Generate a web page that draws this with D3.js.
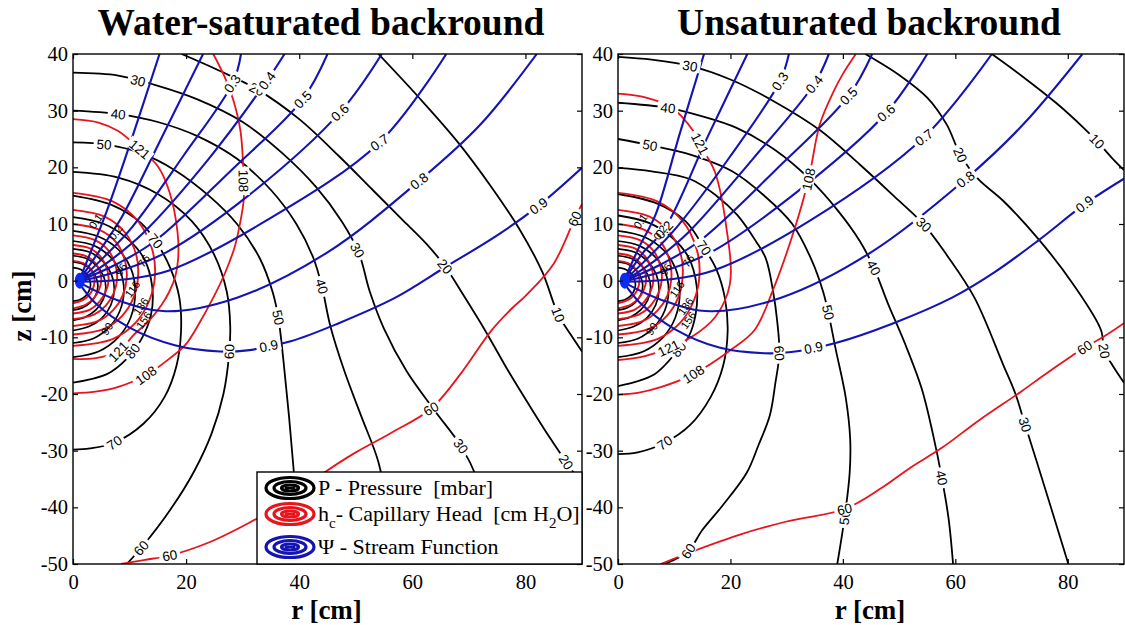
<!DOCTYPE html>
<html>
<head>
<meta charset="utf-8">
<script src="https://cdn.jsdelivr.net/npm/d3@7"></script>
<style>
  body { margin: 0; background: #fff; }
  svg { display: block; }
</style>
</head>
<body>
<div id="chart"></div>
<script>
// ---- values, all in (r [cm], z [cm]) ----
const rTicks = [0, 20, 40, 60, 80];
const zTicks = [-50, -40, -30, -20, -10, 0, 10, 20, 30, 40];
const panelTitles = ["Water-saturated backround", "Unsaturated backround"];

// P - pressure [mbar], water-saturated background
const satPressure = [
  {v: "10", pts: [[54,40],[61,32.5],[68,24.5],[74,16.5],[79,9],[83,1.5],[85.8,-6],[88,-9.5],[90,-12.5]], lab: [[85.8,-6]]},
  {v: "20", pts: [[19.2,40],[26,37],[32.5,33.8],[40,28.5],[47,22],[53,16],[58,11],[62.5,6.5],[65.8,2.5],[69,-2.5],[73,-9],[77,-16],[81,-22.5],[84.5,-28],[87.2,-32],[90,-36]], lab: [[32.5,33.8],[65.8,2.5],[87.2,-32]]},
  {v: "30", pts: [[0,36.7],[8,36.2],[14.3,34.6],[22,32],[30,28],[37,22.5],[43,16.5],[47.5,10.5],[50.5,5],[52.5,-2],[55,-8.5],[59,-16],[64,-23],[68.6,-29.2],[71.5,-35],[73.5,-42],[74.5,-50]], lab: [[11.5,35.3],[50.5,5.5],[68.6,-29.2]]},
  {v: "40", pts: [[0,30],[8,29.4],[15,28],[22,25.5],[29,21.5],[35,16],[39.5,10],[42.5,4],[44,-1],[45.5,-8],[48,-16],[51,-24],[54,-32],[55.5,-40],[56.5,-50]], lab: [[8,29.4],[44,-1]]},
  {v: "50", pts: [[0,24.4],[6,24],[12,22.5],[18,19.5],[24,15],[29,10],[33,4],[35.3,-2],[36.3,-6.5],[37.2,-14],[38.2,-24],[39.3,-37],[40.2,-50]], lab: [[5.5,24],[36.3,-6.5]]},
  {v: "60", pts: [[0,19.2],[8,18.2],[15,15.3],[21,10.5],[25,4.5],[27.2,-2],[27.8,-8],[27.6,-13],[26.6,-20],[24.5,-27],[21.5,-33.5],[17.5,-40],[12.2,-47],[9.5,-50]], lab: [[27.6,-12.5],[12.2,-47.3]]},
  {v: "70", pts: [[0,15],[7,13.3],[12,10.2],[14.6,7],[17.3,2],[18.8,-3],[19.1,-9],[18.3,-15],[16.2,-20.5],[12.5,-25.2],[7.3,-28.6],[3,-29.6],[0,-29.8]], lab: [[14.6,7],[7.3,-28.6]]},
  {v: "80", pts: [[0,11.2],[5.5,10],[9.5,7.5],[12.5,4],[14,-1],[13.8,-6],[12,-10.5],[9.5,-13.8],[6,-16.5],[0,-18]], lab: [[10,-12]]}
];
const satPressureInner = [
  [[0,8.8],[4.5,7.8],[8,5.5],[10.3,2],[11,-2],[10.2,-6.5],[8,-10],[4.5,-12.5],[0,-13.5]],
  [[0,7],[3.7,6.2],[6.5,4.3],[8.4,1.5],[9,-1.8],[8.3,-5.3],[6.4,-8.2],[3.6,-10.2],[0,-11]],
  [[0,5.6],[3,5],[5.3,3.4],[6.8,1.1],[7.3,-1.5],[6.7,-4.3],[5.1,-6.6],[2.8,-8.1],[0,-8.8]],
  [[0,4.4],[2.4,3.9],[4.2,2.6],[5.4,0.8],[5.8,-1.2],[5.3,-3.4],[4,-5.2],[2.2,-6.4],[0,-7]],
  [[0,3.3],[1.8,2.9],[3.2,1.9],[4.1,0.5],[4.4,-1],[4,-2.6],[3,-3.9],[1.6,-4.8],[0,-5.2]],
  [[0,2.3],[1.3,2],[2.3,1.3],[2.9,0.3],[3.1,-0.8],[2.8,-1.9],[2.1,-2.8],[1.1,-3.4],[0,-3.6]]
];

// h_c - capillary head [cm H2O], water-saturated background
const satHead = [
  {v: "60", pts: [[8.5,-50],[12.5,-49.3],[17.1,-48.5],[24,-46.2],[31,-42.8],[38,-38.8],[44.4,-33.9],[50,-30.3],[56,-27],[63.3,-22.6],[68.5,-16.5],[73.9,-8.9],[77.5,-5],[80.2,-2.5],[85,3],[88.9,11.4],[90,13.5]], lab: [[17.1,-48.5],[63.3,-22.6],[88.6,11]]},
  {v: "108", pts: [[24.8,40],[26.8,36],[28.3,32],[29.6,26.5],[30.1,20],[30.2,14.5],[29.7,11],[28.6,6],[26.9,1.4],[24.8,-3],[22.5,-7.2],[19.9,-11.3],[17,-13.8],[12.9,-16.7],[8,-18.75],[4,-19.6],[0,-19.9]], lab: [[30.1,17.6],[12.9,-16.7]]},
  {v: "121", pts: [[0,28.5],[4.5,27.9],[8,26.4],[11.8,23.2],[15,20.2],[17.1,15.5],[18.5,8.4],[18.6,4],[18.1,0.8],[17,-2],[15.7,-4.2],[13.5,-7],[10.8,-9.5],[8,-12.5],[3.8,-13.7],[0,-13.8]], lab: [[11.8,23.2],[8,-12.5]]}
];
const satHeadInner = [
  [[0,15.5],[7,14],[11.5,10.5],[14,5.5],[14.5,1],[13.5,-3.5],[11,-7.5],[7,-10.3],[0,-11.5]],
  [[0,12.5],[5.6,11.3],[9.2,8.5],[11.2,4.5],[11.5,0.7],[10.7,-3],[8.7,-6.2],[5.5,-8.5],[0,-9.5]],
  [[0,10],[4.6,9],[7.6,6.8],[9.2,3.5],[9.5,0.5],[8.8,-2.6],[7.1,-5.2],[4.5,-7.1],[0,-8]],
  [[0,8],[3.8,7.2],[6.2,5.4],[7.5,2.8],[7.8,0.3],[7.2,-2.2],[5.8,-4.4],[3.7,-6],[0,-6.8]],
  [[0,6.3],[3,5.7],[4.9,4.2],[6,2.1],[6.3,0.1],[5.8,-1.9],[4.7,-3.7],[3,-5.1],[0,-5.8]],
  [[0,4.8],[2.4,4.3],[3.9,3.2],[4.8,1.5],[5,0],[4.6,-1.6],[3.7,-3.1],[2.3,-4.2],[0,-4.9]],
  [[0,3.5],[1.8,3.1],[3,2.2],[3.7,1],[3.8,-0.2],[3.5,-1.5],[2.8,-2.6],[1.8,-3.4],[0,-4]]
];

// Psi - stream function, water-saturated background
const satStream = [
  {v: "0.1", pts: [[1.2,0.3],[3.5,6],[6.2,12.9],[10.7,26],[15.3,40]], lab: []},
  {v: "0.2", pts: [[1.2,0.2],[4.5,5],[8.5,11],[15.8,25.5],[23,40]], lab: []},
  {v: "0.3", pts: [[1.2,0.1],[5.5,4.2],[10.5,9.5],[19.5,22],[28.3,35],[29.7,40]], lab: [[28.3,34.7]]},
  {v: "0.4", pts: [[1.2,0],[6.5,3.5],[12.5,8.5],[24,21.5],[34.3,35.3],[37.4,40]], lab: [[34.3,35.3]]},
  {v: "0.5", pts: [[1.2,0],[7.5,2.8],[14.5,7],[28,19.5],[40.6,32],[45,40]], lab: [[40.6,32]]},
  {v: "0.6", pts: [[1.2,-0.1],[8.5,1.8],[16.5,5],[31,15],[47.2,29.7],[54.6,40]], lab: [[47.2,29.7]]},
  {v: "0.7", pts: [[1.2,-0.2],[9,0.2],[17,1.8],[34,10.5],[54.2,24.4],[66,40]], lab: [[54.2,24.4]]},
  {v: "0.8", pts: [[1.2,-0.4],[8,-3.5],[16.4,-5.4],[29,-3],[45,5],[61.2,17.6],[72,27.5],[82,40]], lab: [[61.2,17.6]]},
  {v: "0.9", pts: [[1.2,-0.6],[4,-4],[10,-8.3],[18,-11.4],[26,-12.5],[30.8,-12.3],[38.5,-10.7],[47,-7.5],[57,-3],[66,2.5],[75,8],[82.3,13.2],[90,19.9]], lab: [[34.6,-11.6],[82.3,13.2]]}
];
const satClutter = [
  {v: "96", r: 8.5, z: 2, c: "k"}, {v: "116", r: 10.5, z: -1.5, c: "k"}, {v: "136", r: 12, z: -4.5, c: "k"},
  {v: "156", r: 12.5, z: -7, c: "k"}, {v: "76", r: 12.5, z: 3.5, c: "k"}, {v: "0.1", r: 4, z: 10.5, c: "b"},
  {v: "0.2", r: 7.5, z: 8.5, c: "b"}, {v: "90", r: 6, z: -8.5, c: "k"}
];

// P - pressure [mbar], unsaturated background
const unsatPressure = [
  {v: "10", pts: [[66.5,40],[72,36],[78,31.3],[83,26.8],[85.2,24.6],[88,21.5],[90,19.5]], lab: [[85.2,24.6]]},
  {v: "20", pts: [[44,40],[50,36.3],[55,32.3],[58.5,27.5],[60.9,22.2],[64,18],[68.5,14.1],[74.9,7.2],[80.8,-0.4],[85.9,-8.7],[86.5,-12.4],[88,-15],[90,-18]], lab: [[60.9,22.2],[86.5,-12.4]]},
  {v: "30", pts: [[0,39.5],[6,39],[12.8,37.9],[20,35.5],[28,31.5],[36,26.5],[43,20.5],[49,15],[54.4,9.9],[58.5,4.5],[63.4,-3],[68.5,-14.8],[70.7,-20],[72.4,-25.4],[74.5,-32],[77,-40],[80.1,-50]], lab: [[12.8,37.9],[54.4,9.9],[72.4,-25.4]]},
  {v: "40", pts: [[0,31.4],[8.9,30.5],[15,29],[21,27],[28,23],[34,18],[39,12.5],[43,7],[45.5,2.3],[48,-4],[51,-11],[54,-19],[56,-27],[57.6,-34.8],[58.8,-42],[59.6,-50]], lab: [[8.9,30.5],[45.5,2.3],[57.6,-34.8]]},
  {v: "50", pts: [[0,25],[5.7,23.9],[12,22.5],[20.3,19.3],[26,15],[31,10],[34.5,3.5],[36.5,-2],[37.4,-5.6],[38.7,-12],[40.5,-20.6],[41.3,-28],[41.2,-34],[40.3,-41.8],[39,-50]], lab: [[5.7,23.9],[37.4,-5.6],[40.3,-41.8]]},
  {v: "60", pts: [[0,19.9],[6,19.3],[12.9,17.9],[17.5,15],[21.2,11.6],[24.5,7],[26.3,3.9],[27.6,-2],[28.3,-7],[28.7,-12.8],[28,-18],[27,-23.8],[25,-29],[22.9,-33.9],[18.5,-39.8],[15,-44],[12.5,-47.7],[8.3,-50]], lab: [[28.7,-12.8],[12.5,-47.7]]},
  {v: "70", pts: [[0,15.3],[7,13.6],[12,10.5],[15.3,5.8],[17.5,2],[19,-3],[19.5,-9],[18.7,-15],[16.5,-20.5],[12.8,-25.5],[8.3,-28.6],[3.5,-30.3],[0,-30.6]], lab: [[15.3,5.8],[8.3,-28.6]]},
  {v: "80", pts: [[0,11.5],[5.5,10.2],[9.5,7.7],[12.5,4.2],[14,-1],[13.8,-6],[12.5,-10],[10.8,-12.1],[6.5,-16.5],[0,-18.6]], lab: [[10.8,-12.1]]}
];
const unsatPressureInner = satPressureInner;

// h_c - capillary head [cm H2O], unsaturated background
const unsatHead = [
  {v: "60", pts: [[7.6,-50],[14,-47.5],[21.7,-44.8],[30,-42.5],[40.3,-40.3],[47,-36.5],[52,-33],[57.6,-29.5],[64,-24.8],[71.8,-19.5],[76,-16.5],[80.7,-13.3],[83,-11.8],[86.5,-9.8],[90,-7.5]], lab: [[40.3,-40.3],[83,-11.8]]},
  {v: "108", pts: [[42.3,40],[40,36.5],[38.4,33.5],[35.9,27.6],[33.9,17.9],[31.3,8.8],[27.5,-1.8],[24.3,-8.7],[19.8,-12.4],[13.4,-16.5],[7.6,-18.8],[3.5,-19.8],[0,-20.1]], lab: [[33.9,17.9],[13.4,-16.5]]},
  {v: "121", pts: [[0,33],[5,32.3],[9.6,30.5],[13.4,26.4],[15.5,22.5],[17.2,19.3],[19.2,9.9],[19.9,-0.6],[17.3,-6.4],[13,-10],[9,-11.9],[4,-13.5],[0,-14]], lab: [[14.3,24],[9,-11.9]]}
];
const unsatHeadInner = satHeadInner;

// Psi - stream function, unsaturated background
const unsatStream = [
  {v: "0.1", pts: [[1.2,0.3],[3.8,6],[6.7,11.7],[11,26],[15.3,40]], lab: []},
  {v: "0.2", pts: [[1.2,0.2],[4.5,5],[8.2,9],[16,25.5],[23,40]], lab: [[8.2,9]]},
  {v: "0.3", pts: [[1.2,0.1],[5.5,4.2],[10.5,9.5],[20,22],[28.8,35.2],[30.4,40]], lab: [[28.8,35.2]]},
  {v: "0.4", pts: [[1.2,0],[6.5,3.5],[12.5,8.5],[24,21.5],[34.9,34.7],[37.5,40]], lab: [[34.9,34.7]]},
  {v: "0.5", pts: [[1.2,0],[7.5,2.8],[14.5,7],[28,19.5],[41,32.6],[45.2,40]], lab: [[41,32.6]]},
  {v: "0.6", pts: [[1.2,-0.1],[8.5,1.8],[16.5,5],[31,15],[47.7,29.6],[55,40]], lab: [[47.7,29.6]]},
  {v: "0.7", pts: [[1.2,-0.2],[9,0.2],[17,1.8],[34,10.5],[54.4,25.3],[66.5,40]], lab: [[54.4,25.3]]},
  {v: "0.8", pts: [[1.2,-0.4],[8,-3.5],[16.5,-5.4],[29,-3],[45,5],[61.8,17.9],[72,27.5],[82.6,40]], lab: [[61.8,17.9]]},
  {v: "0.9", pts: [[1.2,-0.6],[4,-4],[10,-8.5],[18,-11.8],[26,-12.8],[30.8,-12.6],[38.7,-11],[49,-7.5],[59.6,-2.9],[67,1.5],[74.9,7.2],[83,13.5],[90,18]], lab: [[34.9,-12.4],[83,13.5]]}
];
const unsatClutter = satClutter;

const legendItems = [
  {color: "#000000", name: "P", text: " - Pressure\u00a0 [mbar]"},
  {color: "#e8141c", name: "h", sub: "c", text: "- Capillary Head\u00a0 [cm H", sub2: "2", tail: "O]"},
  {color: "#1414b4", name: "\u03a8", text: " - Stream Function"}
];

// ---- drawing ----
const width = 1125, height = 625;
const colors = {k: "#000000", r: "#e8141c", b: "#1414b4"};
const serif = "'Liberation Serif','Times New Roman',serif";
const sans = "'Liberation Sans',Arial,sans-serif";

const svg = d3.select("#chart").append("svg")
  .attr("width", width).attr("height", height)
  .attr("viewBox", `0 0 ${width} ${height}`);

const yScale = d3.scaleLinear().domain([-50, 40]).range([564, 54]);

const panels = [
  {title: panelTitles[0], titleX: 321, x: d3.scaleLinear().domain([0, 90]).range([73, 582]),
   P: satPressure, Pin: satPressureInner, H: satHead, Hin: satHeadInner, S: satStream, clutter: satClutter},
  {title: panelTitles[1], titleX: 869, x: d3.scaleLinear().domain([0, 90]).range([618, 1124]),
   P: unsatPressure, Pin: unsatPressureInner, H: unsatHead, Hin: unsatHeadInner, S: unsatStream, clutter: unsatClutter}
];

// put a label on the polyline: nearest point + local direction
function labelSpot(pts, lab, xS) {
  const px = pts.map(d => [xS(d[0]), yScale(d[1])]);
  const q = [xS(lab[0]), yScale(lab[1])];
  let best = null;
  for (let i = 0; i < px.length - 1; i++) {
    const a = px[i], b = px[i + 1];
    const dx = b[0] - a[0], dy = b[1] - a[1];
    const L = dx * dx + dy * dy || 1;
    const t = Math.max(0, Math.min(1, ((q[0] - a[0]) * dx + (q[1] - a[1]) * dy) / L));
    const p = [a[0] + t * dx, a[1] + t * dy];
    const d = (p[0] - q[0]) ** 2 + (p[1] - q[1]) ** 2;
    if (!best || d < best.d) best = {d, p, ang: Math.atan2(dy, dx) * 180 / Math.PI};
  }
  let ang = best.ang;
  if (ang > 90) ang -= 180;
  if (ang < -90) ang += 180;
  return {x: best.p[0], y: best.p[1], ang};
}

panels.forEach((pn, idx) => {
  const xS = pn.x;
  const g = svg.append("g");
  const [x0, x1] = xS.range();
  const clipId = "clip" + idx;

  svg.append("defs").append("clipPath").attr("id", clipId)
    .append("rect").attr("x", x0).attr("y", 54).attr("width", x1 - x0).attr("height", 510);

  const line = d3.line()
    .x(d => xS(d[0])).y(d => yScale(d[1]))
    .curve(d3.curveCatmullRom.alpha(0.5));

  const plot = g.append("g").attr("clip-path", `url(#${clipId})`);

  // black pressure contours
  plot.selectAll(".pin").data(pn.Pin).join("path")
    .attr("d", line).attr("fill", "none").attr("stroke", colors.k).attr("stroke-width", 1.7);
  plot.selectAll(".p").data(pn.P).join("path")
    .attr("d", d => line(d.pts)).attr("fill", "none").attr("stroke", colors.k).attr("stroke-width", 1.8);

  // red capillary head contours
  plot.selectAll(".hin").data(pn.Hin).join("path")
    .attr("d", line).attr("fill", "none").attr("stroke", colors.r).attr("stroke-width", 1.9);
  plot.selectAll(".h").data(pn.H).join("path")
    .attr("d", d => line(d.pts)).attr("fill", "none").attr("stroke", colors.r).attr("stroke-width", 1.8);

  // blue stream function
  plot.selectAll(".s").data(pn.S).join("path")
    .attr("d", d => line(d.pts)).attr("fill", "none").attr("stroke", colors.b).attr("stroke-width", 2.1);

  // source
  plot.append("ellipse")
    .attr("cx", xS(1.2)).attr("cy", yScale(0)).attr("rx", 5).attr("ry", 8)
    .attr("fill", "#0a2cf0");

  // contour labels
  const labs = [];
  [[pn.P, colors.k], [pn.H, colors.r], [pn.S, colors.k]].forEach(([set, col]) => {
    set.forEach(c => c.lab.forEach(l => labs.push({spot: labelSpot(c.pts, l, xS), v: c.v, col})));
  });
  const lg = plot.selectAll(".lab").data(labs).join("g")
    .attr("transform", d => `translate(${d.spot.x},${d.spot.y}) rotate(${d.spot.ang})`);
  lg.append("rect").attr("fill", "#fff");
  const tx = lg.append("text")
    .attr("text-anchor", "middle").attr("dy", "0.36em")
    .attr("font-family", sans).attr("font-size", 13.5).attr("fill", "#000")
    .text(d => d.v);
  tx.each(function () {
    const w = this.getComputedTextLength();
    d3.select(this.previousSibling)
      .attr("x", -w / 2 - 3).attr("y", -6).attr("width", w + 6).attr("height", 12);
  });

  // crowded labels close to the source
  plot.selectAll(".cl").data(pn.clutter).join("text")
    .attr("transform", d => `translate(${xS(d.r)},${yScale(d.z)}) rotate(-55)`)
    .attr("text-anchor", "middle").attr("dy", "0.36em")
    .attr("font-family", sans).attr("font-size", 11).attr("fill", "#000")
    .text(d => d.v);

  // axes, ticks pointing inward on all four sides
  const axB = g.append("g").attr("transform", "translate(0,564)")
    .call(d3.axisBottom(xS).tickValues(rTicks).tickSize(-5).tickPadding(10).tickFormat(d => String(d)));
  const axT = g.append("g").attr("transform", "translate(0,54)")
    .call(d3.axisTop(xS).tickValues(rTicks).tickSize(-5).tickFormat(""));
  const axL = g.append("g").attr("transform", `translate(${x0},0)`)
    .call(d3.axisLeft(yScale).tickValues(zTicks).tickSize(-5).tickPadding(5).tickFormat(d => String(d)));
  const axR = g.append("g").attr("transform", `translate(${x1},0)`)
    .call(d3.axisRight(yScale).tickValues(zTicks).tickSize(-5).tickFormat(""));
  [axB, axT, axL, axR].forEach(a => {
    a.select(".domain").remove();
    a.selectAll("line").attr("stroke", "#000").attr("stroke-width", 1.2);
    a.selectAll("text").attr("font-family", serif).attr("font-size", 20.5).attr("fill", "#000");
  });

  g.append("rect")
    .attr("x", x0).attr("y", 54).attr("width", x1 - x0).attr("height", 510)
    .attr("fill", "none").attr("stroke", "#000").attr("stroke-width", 1.4);

  // title and r label
  g.append("text")
    .attr("x", pn.titleX).attr("y", 35).attr("text-anchor", "middle")
    .attr("font-family", serif).attr("font-weight", "bold").attr("font-size", 37.5)
    .text(pn.title);
  g.append("text")
    .attr("x", (x0 + x1) / 2 - 1).attr("y", 619).attr("text-anchor", "middle")
    .attr("font-family", serif).attr("font-weight", "bold").attr("font-size", 27)
    .text("r [cm]");
});

// z label
svg.append("text")
  .attr("transform", "translate(31,306) rotate(-90)")
  .attr("text-anchor", "middle")
  .attr("font-family", serif).attr("font-weight", "bold").attr("font-size", 27)
  .text("z [cm]");

// legend in the left panel
const legend = svg.append("g");
legend.append("rect")
  .attr("x", 257).attr("y", 472).attr("width", 325).attr("height", 92)
  .attr("fill", "#fff").attr("stroke", "#000").attr("stroke-width", 1.4);

const rowY = [495, 521, 554];
legendItems.forEach((it, i) => {
  const cy = rowY[i] - 7;
  const icon = legend.append("g").attr("transform", `translate(290,${cy})`);
  [[24, 10.5], [16, 6.5], [8.5, 3]].forEach(([rx, ry]) => {
    icon.append("ellipse").attr("rx", rx).attr("ry", ry)
      .attr("fill", "none").attr("stroke", it.color).attr("stroke-width", 3.2);
  });
  icon.append("line").attr("x1", -5).attr("x2", 5)
    .attr("stroke", it.color).attr("stroke-width", 2.5);

  const t = legend.append("text")
    .attr("x", 318).attr("y", rowY[i])
    .attr("font-family", serif).attr("font-size", 22).attr("fill", "#000");
  t.append("tspan").text(it.name);
  if (it.sub) t.append("tspan").attr("font-size", 15).attr("dy", 7).text(it.sub);
  t.append("tspan").attr("dy", it.sub ? -7 : 0).text(it.text);
  if (it.sub2) {
    t.append("tspan").attr("font-size", 15).attr("dy", 7).text(it.sub2);
    t.append("tspan").attr("dy", -7).text(it.tail);
  }
});
</script>
</body>
</html>
